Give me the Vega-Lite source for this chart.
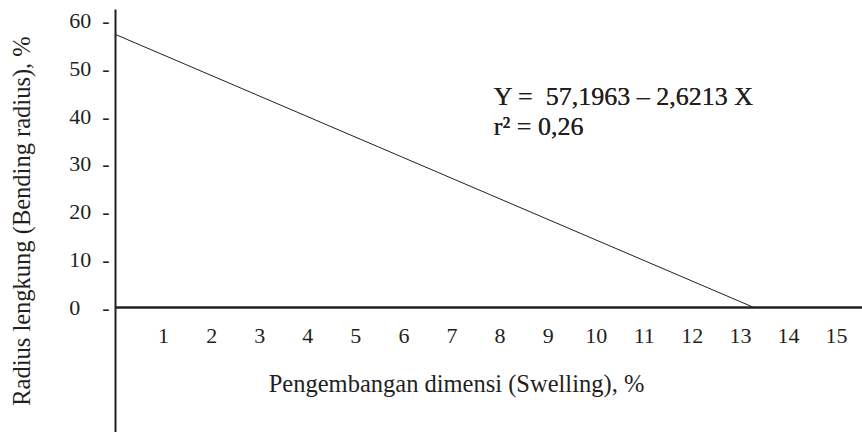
{
  "$schema": "https://vega.github.io/schema/vega-lite/v6.json",
  "width": 747,
  "height": 423,
  "autosize": "none",
  "padding": {"left": 115, "top": 9, "right": 0, "bottom": 0},
  "background": "white",
  "config": {
    "view": {"stroke": null},
    "font": "Liberation Serif",
    "axis": {"labelFont": "Liberation Serif", "titleFont": "Liberation Serif", "labelColor": "#231f20", "titleColor": "#231f20", "titleFontWeight": "normal"}
  },
  "data": {"values": [{"x": 0, "y": 57.2}, {"x": 13.27, "y": 0}]},
  "layer": [
    {
      "mark": {"type": "line", "color": "#231f20", "strokeWidth": 1},
      "encoding": {
        "x": {
          "field": "x", "type": "quantitative",
          "scale": {"domain": [0, 15.54], "nice": false, "zero": false},
          "axis": {
            "orient": "bottom", "offset": -125,
            "values": [1,2,3,4,5,6,7,8,9,10,11,12,13,14,15],
            "ticks": false, "grid": false,
            "domainColor": "#231f20", "domainWidth": 2.5,
            "labelFontSize": 22, "labelPadding": 18,
            "title": "Pengembangan dimensi (Swelling), %",
            "titleFontSize": 24.5, "titleX": 341, "titleY": 77,
            "titleAlign": "center", "titleBaseline": "middle"
          }
        },
        "y": {
          "field": "y", "type": "quantitative",
          "scale": {"domain": [-26.2, 62.5], "nice": false, "zero": false},
          "axis": {
            "values": [0,10,20,30,40,50,60],
            "ticks": false, "grid": false,
            "domainColor": "#231f20", "domainWidth": 2,
            "labelFontSize": 22, "labelPadding": 6,
            "labelExpr": "datum.value == 0 ? '0\u00a0\u00a0\u00a0\u00a0-' : datum.label + '\u00a0\u00a0-'",
            "title": "Radius lengkung (Bending radius), %",
            "titleFontSize": 24.5, "titleX": -93, "titleY": 211.5,
            "titleAngle": -90, "titleAlign": "center", "titleBaseline": "middle"
          }
        }
      }
    },
    {
      "mark": {"type": "text", "align": "left", "baseline": "middle", "fontSize": 26, "font": "Liberation Serif", "color": "#231f20", "lineHeight": 30},
      "encoding": {
        "x": {"datum": 7.88, "type": "quantitative"},
        "y": {"datum": 44.0, "type": "quantitative"},
        "text": {"value": ["Y =\u00a0\u00a057,1963 – 2,6213 X", "r² = 0,26"]}
      }
    }
  ]
}
